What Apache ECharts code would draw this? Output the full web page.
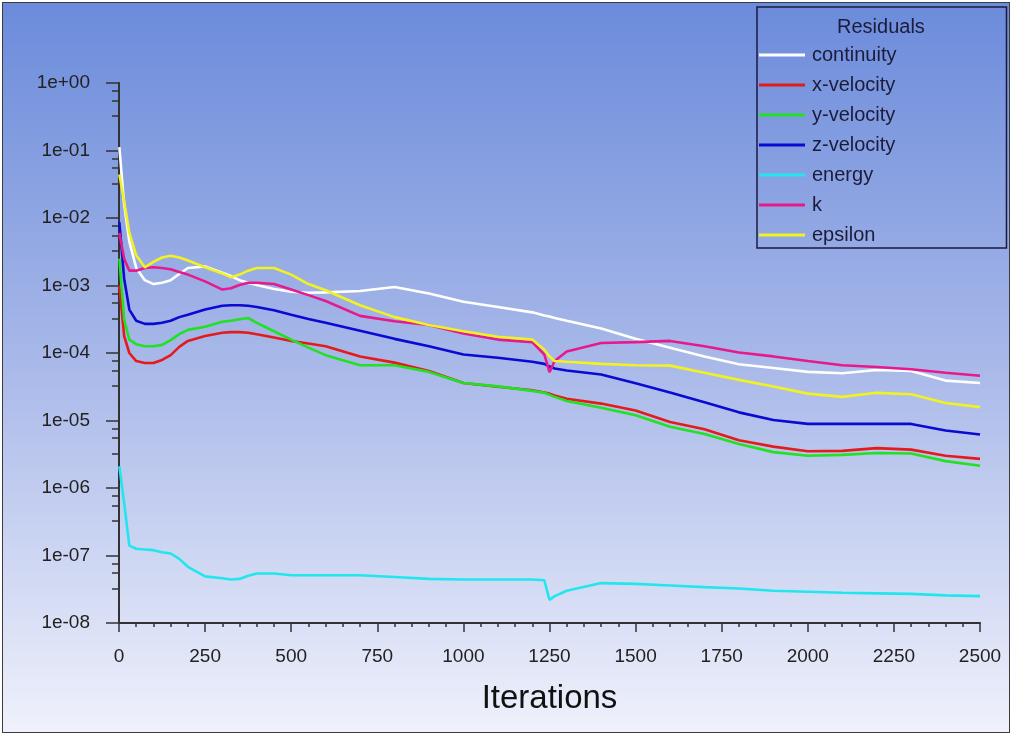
<!DOCTYPE html>
<html><head><meta charset="utf-8">
<script src="https://cdn.jsdelivr.net/npm/echarts@6/dist/echarts.min.js"></script>
<style>
html,body{margin:0;padding:0;background:#fff;width:1011px;height:733px;overflow:hidden}
#chart{position:absolute;left:2px;top:2px;width:1006px;height:729px;border:1px solid #3c3c3c}
</style></head><body><div id="chart"></div>
<script>
// ---- data ----
const iterations = [1, 15, 30, 50, 75, 100, 125, 150, 175, 200, 250, 300, 325, 350, 375, 400, 450, 500, 550, 600, 700, 800, 900, 1000, 1100, 1200, 1235, 1250, 1265, 1300, 1400, 1500, 1600, 1700, 1800, 1900, 2000, 2100, 2200, 2300, 2400, 2500];
const continuity = [1.12e-1, 1.58e-2, 4.47e-3, 1.82e-3, 1.20e-3, 1.05e-3, 1.10e-3, 1.20e-3, 1.48e-3, 1.82e-3, 1.91e-3, 1.55e-3, 1.38e-3, 1.20e-3, 1.10e-3, 1.02e-3, 8.9e-4, 8.1e-4, 7.8e-4, 7.9e-4, 8.3e-4, 9.5e-4, 7.6e-4, 5.75e-4, 4.8e-4, 4.0e-4, 3.6e-4, 3.47e-4, 3.3e-4, 3.0e-4, 2.3e-4, 1.62e-4, 1.2e-4, 8.9e-5, 6.8e-5, 6.0e-5, 5.25e-5, 5.0e-5, 5.6e-5, 5.4e-5, 3.9e-5, 3.6e-5];
const xVelocity = [1.0e-3, 1.78e-4, 1.0e-4, 7.6e-5, 7.1e-5, 7.1e-5, 7.9e-5, 9.3e-5, 1.23e-4, 1.51e-4, 1.78e-4, 2.0e-4, 2.04e-4, 2.04e-4, 2.0e-4, 1.9e-4, 1.7e-4, 1.51e-4, 1.38e-4, 1.26e-4, 8.9e-5, 7.2e-5, 5.4e-5, 3.6e-5, 3.16e-5, 2.8e-5, 2.6e-5, 2.5e-5, 2.35e-5, 2.1e-5, 1.78e-5, 1.41e-5, 9.5e-6, 7.4e-6, 5.1e-6, 4.1e-6, 3.5e-6, 3.55e-6, 3.9e-6, 3.7e-6, 3.0e-6, 2.7e-6];
const yVelocity = [2.5e-3, 3.16e-4, 1.58e-4, 1.35e-4, 1.26e-4, 1.26e-4, 1.32e-4, 1.55e-4, 1.9e-4, 2.2e-4, 2.45e-4, 2.9e-4, 3.0e-4, 3.16e-4, 3.3e-4, 2.8e-4, 2.1e-4, 1.58e-4, 1.2e-4, 9.3e-5, 6.6e-5, 6.6e-5, 5.25e-5, 3.6e-5, 3.2e-5, 2.75e-5, 2.57e-5, 2.4e-5, 2.24e-5, 1.95e-5, 1.55e-5, 1.2e-5, 8.1e-6, 6.3e-6, 4.5e-6, 3.4e-6, 3.0e-6, 3.1e-6, 3.3e-6, 3.25e-6, 2.5e-6, 2.14e-6];
const zVelocity = [8.7e-3, 1.26e-3, 4.4e-4, 3.0e-4, 2.7e-4, 2.7e-4, 2.8e-4, 3.0e-4, 3.4e-4, 3.7e-4, 4.4e-4, 5.0e-4, 5.1e-4, 5.1e-4, 5.0e-4, 4.8e-4, 4.3e-4, 3.7e-4, 3.2e-4, 2.8e-4, 2.14e-4, 1.62e-4, 1.26e-4, 9.5e-5, 8.5e-5, 7.4e-5, 6.9e-5, 6.3e-5, 5.9e-5, 5.5e-5, 4.8e-5, 3.55e-5, 2.6e-5, 1.86e-5, 1.32e-5, 1.02e-5, 8.9e-6, 8.9e-6, 8.9e-6, 8.9e-6, 7.1e-6, 6.2e-6];
const energy = [2.1e-6, 6.0e-7, 1.4e-7, 1.26e-7, 1.23e-7, 1.2e-7, 1.12e-7, 1.07e-7, 8.9e-8, 6.8e-8, 4.9e-8, 4.6e-8, 4.4e-8, 4.5e-8, 5.0e-8, 5.4e-8, 5.4e-8, 5.1e-8, 5.1e-8, 5.1e-8, 5.1e-8, 4.8e-8, 4.5e-8, 4.4e-8, 4.4e-8, 4.4e-8, 4.3e-8, 2.2e-8, 2.5e-8, 3.0e-8, 3.9e-8, 3.8e-8, 3.6e-8, 3.4e-8, 3.24e-8, 3.0e-8, 2.9e-8, 2.8e-8, 2.75e-8, 2.7e-8, 2.57e-8, 2.5e-8];
const kTurb = [6.0e-3, 2.5e-3, 1.66e-3, 1.66e-3, 1.82e-3, 1.86e-3, 1.82e-3, 1.74e-3, 1.58e-3, 1.45e-3, 1.15e-3, 8.7e-4, 9.1e-4, 1.02e-3, 1.10e-3, 1.10e-3, 1.05e-3, 8.7e-4, 7.2e-4, 5.9e-4, 3.55e-4, 2.95e-4, 2.6e-4, 1.95e-4, 1.58e-4, 1.45e-4, 9.5e-5, 5.2e-5, 7.6e-5, 1.05e-4, 1.41e-4, 1.45e-4, 1.51e-4, 1.26e-4, 1.02e-4, 8.9e-5, 7.6e-5, 6.6e-5, 6.2e-5, 5.75e-5, 5.1e-5, 4.6e-5];
const epsilon = [4.4e-2, 1.78e-2, 6.0e-3, 2.8e-3, 1.86e-3, 2.24e-3, 2.6e-3, 2.75e-3, 2.6e-3, 2.34e-3, 1.86e-3, 1.51e-3, 1.32e-3, 1.45e-3, 1.66e-3, 1.82e-3, 1.82e-3, 1.45e-3, 1.05e-3, 8.5e-4, 5.1e-4, 3.4e-4, 2.6e-4, 2.1e-4, 1.74e-4, 1.58e-4, 1.12e-4, 8.9e-5, 7.6e-5, 7.4e-5, 6.9e-5, 6.6e-5, 6.5e-5, 5.1e-5, 4.0e-5, 3.2e-5, 2.5e-5, 2.24e-5, 2.57e-5, 2.45e-5, 1.82e-5, 1.58e-5];

const seriesNames = ['continuity', 'x-velocity', 'y-velocity', 'z-velocity', 'energy', 'k', 'epsilon'];
const seriesValues = [continuity, xVelocity, yVelocity, zVelocity, energy, kTurb, epsilon];
const xTickLabels = ['0', '250', '500', '750', '1000', '1250', '1500', '1750', '2000', '2250', '2500'];
const yTickLabels = ['1e+00', '1e-01', '1e-02', '1e-03', '1e-04', '1e-05', '1e-06', '1e-07', '1e-08'];
const yMinorFractions = [0.76, 0.555, 0.324];
const legendTitle = 'Residuals';
const xAxisTitle = 'Iterations';

// ---- styles ----
const seriesColors = ['#ffffff', '#e41b1b', '#22e022', '#0a0ad2', '#22e6ee', '#e61a8c', '#f2f222'];
const axisColor = '#333333';
const FONT = '"Liberation Sans", Arial, sans-serif';

const minorLog = [];
for (let d = 0; d < yTickLabels.length - 1; d++) {
  yMinorFractions.forEach(f => minorLog.push(-d + Math.log10(f)));
}

const chart = echarts.init(document.getElementById('chart'), null, {renderer: 'canvas'});
chart.setOption({
  animation: false,
  backgroundColor: {
    type: 'linear', x: 0, y: 0, x2: 0, y2: 1,
    colorStops: [
      {offset: 0, color: '#6b8bdb'},
      {offset: 0.5, color: '#a9b9e9'},
      {offset: 1, color: '#eff1fb'}
    ]
  },
  textStyle: {fontFamily: FONT},
  title: {
    text: legendTitle, left: 834, top: 14, padding: 0,
    textStyle: {fontFamily: FONT, fontSize: 20, fontWeight: 'normal', color: '#1c1c3a'}
  },
  legend: {
    orient: 'vertical', left: 754, top: 4,
    padding: [38, 110, 3, 2],
    itemWidth: 46, itemHeight: 3, itemGap: 10,
    icon: 'rect',
    borderColor: '#1a1a40', borderWidth: 1.5,
    data: seriesNames,
    textStyle: {fontFamily: FONT, fontSize: 20, lineHeight: 20, color: '#1c1c3a', padding: [0, 0, 0, 2]}
  },
  grid: {left: 116, top: 80, width: 861, height: 540, containLabel: false},
  xAxis: {
    type: 'value', min: 0, max: 2500, interval: 250,
    name: xAxisTitle, nameLocation: 'middle', nameGap: 59,
    nameTextStyle: {fontFamily: FONT, fontSize: 33, color: '#111111'},
    axisLine: {show: true, onZero: false, lineStyle: {color: axisColor, width: 2}},
    axisTick: {show: true, length: 9, lineStyle: {color: axisColor, width: 1.5}},
    minorTick: {show: true, splitNumber: 5, length: 4, lineStyle: {color: axisColor, width: 1.5}},
    splitLine: {show: false}, minorSplitLine: {show: false},
    axisLabel: {
      margin: 24, fontSize: 19, color: '#222222', fontFamily: FONT,
      formatter: v => xTickLabels[Math.round(v / 250)]
    }
  },
  yAxis: [{
    type: 'log', logBase: 10, min: 1e-8, max: 1, splitNumber: 8,
    axisLine: {show: true, onZero: false, lineStyle: {color: axisColor, width: 2}},
    axisTick: {show: true, length: 13, lineStyle: {color: axisColor, width: 1.5}},
    splitLine: {show: false},
    axisLabel: {
      margin: 29, fontSize: 19, color: '#222222', fontFamily: FONT,
      formatter: v => yTickLabels[Math.round(-Math.log10(v))]
    }
  }, {
    type: 'value', min: -8, max: 0, position: 'left',
    axisLine: {show: false, onZero: false},
    axisLabel: {show: false},
    splitLine: {show: false},
    axisTick: {show: true, length: 7, customValues: minorLog, lineStyle: {color: axisColor, width: 1.5}}
  }],
  series: seriesNames.map((name, i) => ({
    name: name,
    type: 'line',
    xAxisIndex: 0, yAxisIndex: 0,
    showSymbol: false, symbol: 'none',
    color: seriesColors[i],
    itemStyle: {color: seriesColors[i]},
    lineStyle: {color: seriesColors[i], width: 2.6},
    data: iterations.map((x, j) => [x, seriesValues[i][j]])
  }))
});
</script></body></html>
